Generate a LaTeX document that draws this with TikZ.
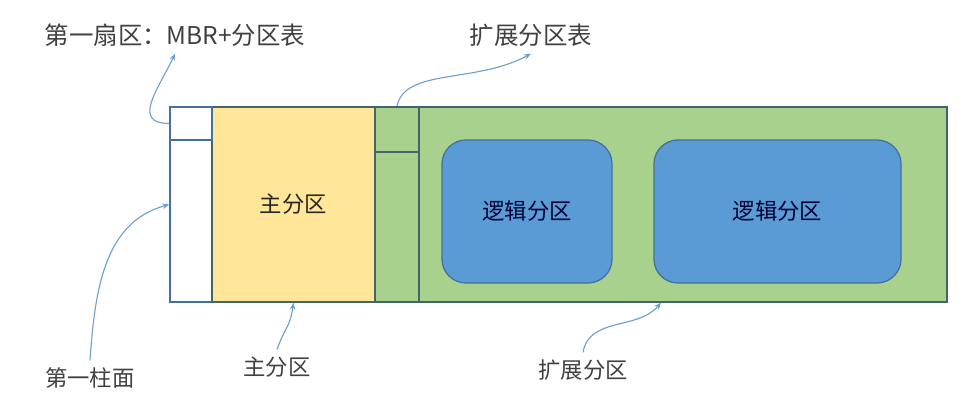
\documentclass[tikz,border=0pt]{standalone}
\usepackage{fontspec}
\newfontfamily\cjk{Noto Sans CJK SC}
\usetikzlibrary{arrows.meta,positioning}
\definecolor{edgec}{HTML}{41656A}
\definecolor{bluec}{HTML}{5B9BD5}
\definecolor{blueedge}{HTML}{41719C}
\definecolor{greenc}{HTML}{A9D18E}
\definecolor{yellowc}{HTML}{FFE699}
\definecolor{arrowc}{HTML}{6FA0CC}
\definecolor{textc}{HTML}{404040}

\begin{document}
\begin{tikzpicture}[
    x=0.025cm, y=0.025cm,
    every node/.style={
        font=\cjk\fontsize{15.9}{18}\selectfont,
        inner sep=5pt
    },
    cell/.style={draw=edgec, line width=0.9pt, inner sep=0pt},
    sep/.style={draw=edgec, line width=1.4pt, inner sep=0pt},
    logic/.style={draw=blueedge, line width=0.9pt, fill=bluec,
        rounded corners=0.6cm, text=blue!20!black, inner sep=0pt},
    lbl/.style={text=textc},
    big/.style={font=\cjk\fontsize{17.4}{20}\selectfont},
    link/.style={draw=arrowc, line width=0.8pt,
        -{Stealth[length=5pt,width=4pt]}}
]
\useasboundingbox (0,0) rectangle (969,400);

\node[cell, draw=blueedge, fill=white, minimum width=1.05cm, minimum height=4.875cm] (col) at (191,195.5) {};
\node[cell, fill=yellowc, text=black!85, minimum width=4.075cm, minimum height=4.875cm] (prim) at (293.5,195.5) {主分区};
\node[cell, fill=greenc, minimum width=14.3cm, minimum height=4.875cm] (ext) at (661,195.5) {};
\node[sep, minimum width=1.1cm, minimum height=4.875cm] (ebrcol) at (397,195.5) {};
\node[sep, minimum width=1.1cm, minimum height=1.125cm] (ebr) at (397,270.5) {};
\node[cell, draw=blueedge, line width=1.2pt, minimum width=1.05cm, minimum height=0.825cm] (mbr) at (191,276.5) {};
\node[logic, minimum width=4.25cm, minimum height=3.575cm] (log1) at (527,188.5) {逻辑分区};
\node[logic, minimum width=6.175cm, minimum height=3.575cm] (log2) at (777.5,188.5) {逻辑分区};

\node[lbl, big] (mbrlbl) at (175,365) {第一扇区：MBR+分区表};
\node[lbl, big] (ebrlbl) at (531,365) {扩展分区表};
\node[lbl] (cyllbl) at (90,22) {第一柱面};
\node[lbl] (primlbl) at (277,33) {主分区};
\node[lbl] (extlbl) at (583,30) {扩展分区};

\draw[link] (mbr.west) to[out=180, in=-115, looseness=1.4] (mbrlbl.south);
\draw[link] (ebr.north) .. controls +(8,38) and +(-55,-30) .. (ebrlbl.south);
\draw[link] (cyllbl.north) to[out=86, in=-165] (col.west);
\draw[link] (primlbl.north) to[out=70, in=-98, looseness=1.3] (prim.south);
\draw[link] (extlbl.north) to[out=80, in=-130] (ext.south);
\end{tikzpicture}
\end{document}
